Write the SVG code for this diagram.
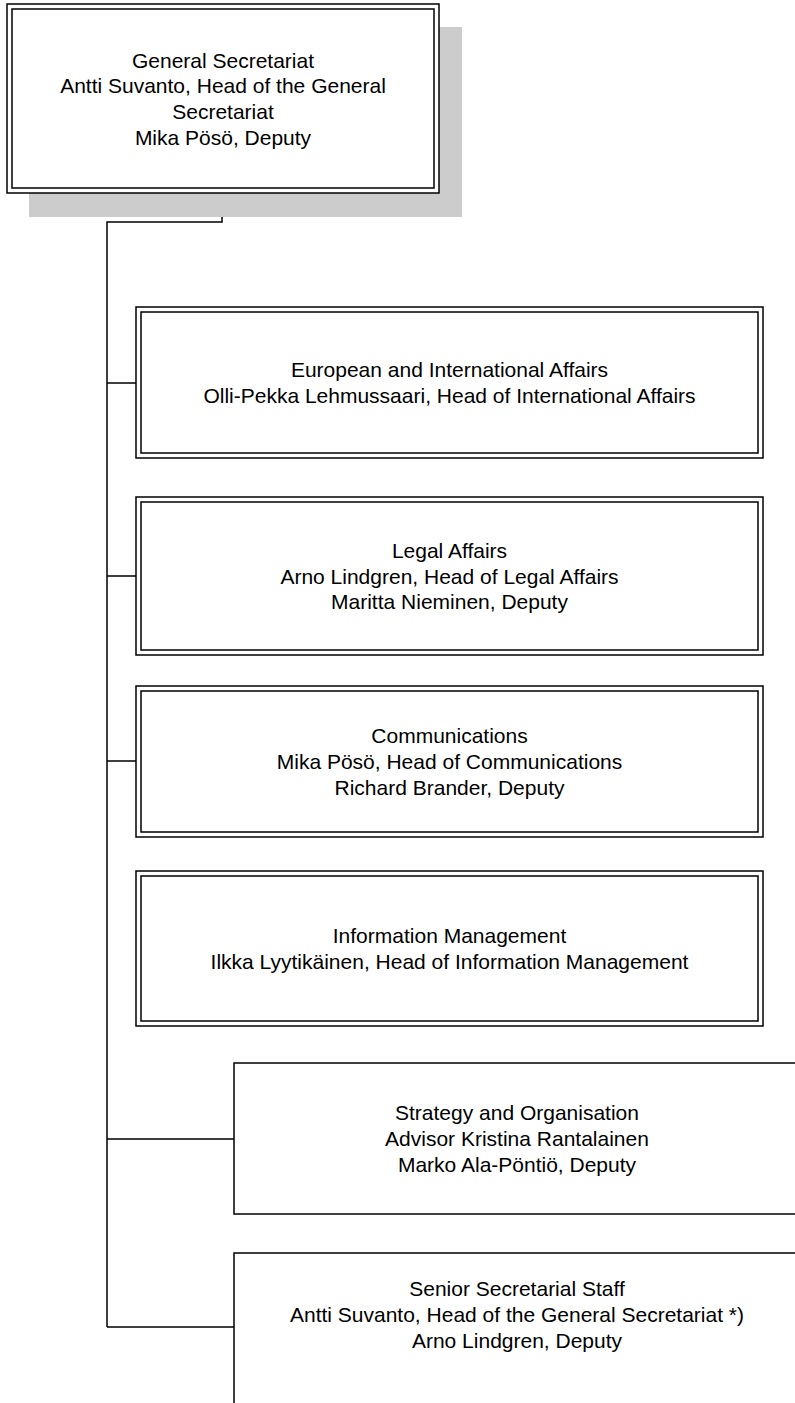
<svg xmlns="http://www.w3.org/2000/svg" width="795" height="1403" viewBox="0 0 795 1403">
<style>
.bx{fill:#ffffff;stroke:#000000;stroke-width:1.5}
.in{fill:none;stroke:#000000;stroke-width:1.5}
.t{font-family:"Liberation Sans",Arial,sans-serif;font-size:21px;fill:#000000;text-anchor:middle}
.c{fill:none;stroke:#000000;stroke-width:1.5}
</style>
<rect width="795" height="1403" fill="#ffffff"/>
<g id="connectors">
<path class="c" d="M222,193 V222 H107 V1327"/>
<path class="c" d="M107,383 H136 M107,576 H136 M107,761 H136 M107,1139 H234 M107,1327 H234"/>
</g>
<g id="general-secretariat">
<rect x="29" y="27" width="433" height="190" fill="#cccccc"/>
<rect class="bx" x="7" y="4" width="432" height="189"/>
<rect class="in" x="12" y="9" width="422" height="179"/>
<text class="t" x="223" y="67.5">General Secretariat</text>
<text class="t" x="223" y="93.2">Antti Suvanto, Head of the General</text>
<text class="t" x="223" y="118.9">Secretariat</text>
<text class="t" x="223" y="144.6">Mika Pösö, Deputy</text>
</g>
<g id="european-international">
<rect class="bx" x="136" y="307" width="627" height="151"/>
<rect class="in" x="141" y="312" width="617" height="141"/>
<text class="t" x="449.5" y="377.2">European and International Affairs</text>
<text class="t" x="449.5" y="402.9">Olli-Pekka Lehmussaari, Head of International Affairs</text>
</g>
<g id="legal-affairs">
<rect class="bx" x="136" y="497" width="627" height="158"/>
<rect class="in" x="141" y="502" width="617" height="148"/>
<text class="t" x="449.5" y="557.8">Legal Affairs</text>
<text class="t" x="449.5" y="583.5">Arno Lindgren, Head of Legal Affairs</text>
<text class="t" x="449.5" y="609.2">Maritta Nieminen, Deputy</text>
</g>
<g id="communications">
<rect class="bx" x="136" y="686" width="627" height="151"/>
<rect class="in" x="141" y="691" width="617" height="141"/>
<text class="t" x="449.5" y="743.3">Communications</text>
<text class="t" x="449.5" y="769">Mika Pösö, Head of Communications</text>
<text class="t" x="449.5" y="794.7">Richard Brander, Deputy</text>
</g>
<g id="information-management">
<rect class="bx" x="136" y="871" width="627" height="155"/>
<rect class="in" x="141" y="876" width="617" height="145"/>
<text class="t" x="449.5" y="943.2">Information Management</text>
<text class="t" x="449.5" y="968.9">Ilkka Lyytikäinen, Head of Information Management</text>
</g>
<g id="strategy-organisation">
<rect class="bx" x="234" y="1063" width="566" height="151"/>
<text class="t" x="517" y="1120.3">Strategy and Organisation</text>
<text class="t" x="517" y="1146">Advisor Kristina Rantalainen</text>
<text class="t" x="517" y="1171.7">Marko Ala-Pöntiö, Deputy</text>
</g>
<g id="senior-secretarial-staff">
<rect class="bx" x="234" y="1253" width="566" height="151"/>
<text class="t" x="517" y="1296.3">Senior Secretarial Staff</text>
<text class="t" x="517" y="1322">Antti Suvanto, Head of the General Secretariat *)</text>
<text class="t" x="517" y="1347.7">Arno Lindgren, Deputy</text>
</g>
</svg>
